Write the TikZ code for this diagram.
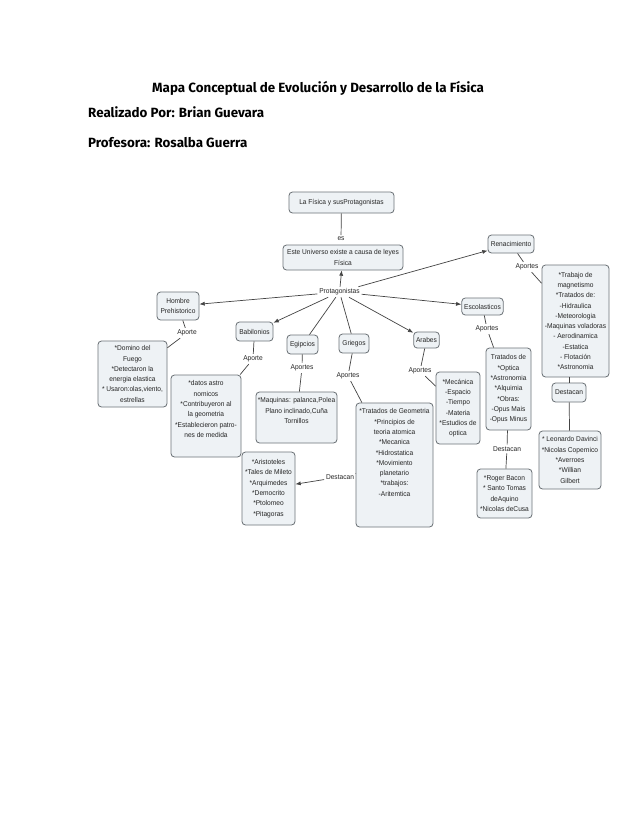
\documentclass[tikz,border=0pt]{standalone}
\usepackage{fontspec}
\usepackage{xcolor}
\usepackage{tikz}
\usetikzlibrary{arrows.meta}
\setmainfont{Liberation Sans}[FakeStretch=0.94]
\newfontfamily\headfont{Fira Sans}
\definecolor{MapFill}{HTML}{EEF2F5}
\definecolor{MapEdge}{HTML}{6E7479}
\definecolor{MapLink}{HTML}{444444}
\definecolor{MapText}{HTML}{262626}
\def\pxu{0.03cm}
\tikzset{
  mapfont/.style={font=\fontsize{6}{8.8}\selectfont, text=MapText},
  mapbox/.style={mapfont, draw=MapEdge, fill=MapFill, line width=0.7pt, rounded corners=3pt, align=center, inner sep=2pt},
  boxsize/.style 2 args={minimum width=#1*\pxu, minimum height=#2*\pxu},
  boxtext/.style={mapfont, anchor=north, align=center, inner sep=2pt, yshift=-3pt},
  maplabel/.style={mapfont, inner sep=1.5pt},
  link/.style={draw=MapLink, line width=0.6pt},
  linkarrow/.style={link, -{Latex[length=4.5pt,width=3.5pt]}},
  heading/.style={anchor=west, inner sep=0pt, font=\headfont\bfseries\fontsize{11.4}{13}\selectfont}
}

\begin{document}
\begin{tikzpicture}[x=\pxu, y=-\pxu]
    \useasboundingbox[fill=white] (0,0) rectangle (638,826);

    \node[heading] (titulo) at (152,88) {Mapa Conceptual de Evolución y Desarrollo de la Física};
    \node[heading] (autor) at (88,112) {Realizado Por: Brian Guevara};
    \node[heading] (profe) at (88,143) {Profesora: Rosalba Guerra};

    \node[mapbox, boxsize={105}{21}] (fisica) at (341.5,202.5) {La Física y susProtagonistas};
    \node[maplabel] (es) at (341,239) {es};
    \node[mapbox, boxsize={120}{25}] (universo) at (343,257.5) {Este Universo existe a causa de leyes\\Física};
    \node[maplabel] (protag) at (339.5,292) {Protagonistas};

    \node[mapbox, boxsize={42}{28}] (hombre) at (178,306) {Hombre\\Prehistorico};
    \node[mapbox, boxsize={37}{19}] (babil) at (254.5,331.5) {Babilonios};
    \node[mapbox, boxsize={31}{19}] (egip) at (302.5,344.5) {Egipcios};
    \node[mapbox, boxsize={30}{19}] (grieg) at (354,343.5) {Griegos};
    \node[mapbox, boxsize={23}{16}] (arabes) at (426.5,340) {Arabes};
    \node[mapbox, boxsize={41}{17}] (escol) at (482.5,306.5) {Escolasticos};
    \node[mapbox, boxsize={46}{18}] (renac) at (511,244) {Renacimiento};

    \node[maplabel] (aporteH) at (187,333) {Aporte};
    \node[maplabel] (aporteB) at (253,359) {Aporte};
    \node[maplabel] (aportesE) at (302,368) {Aportes};
    \node[maplabel] (aportesG) at (348,376) {Aportes};
    \node[maplabel] (aportesA) at (420,371) {Aportes};
    \node[maplabel] (aportesEs) at (487,329) {Aportes};
    \node[maplabel] (aportesR) at (527,267) {Aportes};

    \node[mapbox, boxsize={69}{66}] (domino) at (132.5,374) {*Domino del\\Fuego\\*Detectaron la\\energia elastica\\* Usaron:olas,viento,\\estrellas};
    \node[mapbox, boxsize={70}{82}, label={[boxtext]north:{*datos astro\\nomicos\\*Contribuyeron al\\la geometria\\*Establecieron patro-\\nes de medida}}] (datos) at (206,416) {};
    \node[mapbox, boxsize={81}{51}, label={[boxtext]north:{*Maquinas: palanca,Polea\\Plano inclinado,Cuña\\Tornillos}}] (maquinas) at (296.5,417.5) {};
    \node[mapbox, boxsize={77}{124}, label={[boxtext]north:{*Tratados de Geometria\\*Principios de\\teoria atomica\\*Mecanica\\*Hidrostatica\\*Movimiento\\planetario\\*trabajos:\\-Aritemtica}}] (geom) at (394.5,465) {};
    \node[mapbox, boxsize={53}{73}] (arist) at (268.5,488.5) {*Aristoteles\\*Tales de Mileto\\*Arquimedes\\*Democrito\\*Ptolomeo\\*Pitagoras};
    \node[maplabel] (destacanG) at (340,477) {Destacan};
    \node[mapbox, boxsize={44}{72}] (mecan) at (458,408) {*Mecánica\\-Espacio\\-Tiempo\\-Materia\\*Estudios de\\optica};
    \node[mapbox, boxsize={45}{82}] (tratEsc) at (508.5,389) {Tratados de\\*Optica\\*Astronomia\\*Alquimia\\*Obras:\\-Opus Mais\\-Opus Minus};
    \node[maplabel] (destacanEs) at (507,449) {Destacan};
    \node[mapbox, boxsize={55}{49}] (roger) at (504.5,493.5) {*Roger Bacon\\* Santo Tomas\\deAquino\\*Nicolas deCusa};
    \node[mapbox, boxsize={67}{112}] (trabajo) at (575.5,321) {*Trabajo de\\magnetismo\\*Tratados de:\\-Hidraulica\\-Meteorologia\\-Maquinas voladoras\\- Aerodinamica\\-Estatica\\- Flotación\\*Astronomia};
    \node[mapbox, boxsize={34}{19}] (destBox) at (569,392.5) {Destacan};
    \node[mapbox, boxsize={62}{58}] (leon) at (570,460) {* Leonardo Davinci\\*Nicolas Copernico\\*Averroes\\*Willian\\Gilbert};

    \draw[link] (fisica) -- (es);
    \draw[linkarrow] (protag) -- (universo);
    \draw[linkarrow] (protag) -- (hombre);
    \draw[linkarrow] (protag) -- (babil);
    \draw[link] (protag) -- (egip);
    \draw[link] (protag) -- (grieg);
    \draw[linkarrow] (protag) -- (arabes);
    \draw[linkarrow] (protag) -- (escol);
    \draw[linkarrow] (protag) -- (renac);

    \draw[link] (hombre) -- (aporteH);
    \draw[link] (aporteH) -- (domino);
    \draw[link] (babil) -- (aporteB);
    \draw[link] (aporteB) -- (datos);
    \draw[link] (egip) -- (aportesE);
    \draw[link] (aportesE) -- (maquinas);
    \draw[link] (grieg) -- (aportesG);
    \draw[link] (aportesG) -- (geom);
    \draw[link] (geom) -- (destacanG);
    \draw[linkarrow] (destacanG) -- (arist);
    \draw[link] (arabes) -- (aportesA);
    \draw[link] (aportesA) -- (mecan);
    \draw[link] (escol) -- (aportesEs);
    \draw[link] (aportesEs) -- (tratEsc);
    \draw[link] (tratEsc) -- (destacanEs);
    \draw[link] (destacanEs) -- (roger);
    \draw[link] (renac) -- (aportesR);
    \draw[link] (aportesR) -- (trabajo);
    \draw[link] (trabajo.south -| destBox) -- (destBox);
    \draw[link] (destBox) -- (leon);
\end{tikzpicture}
\end{document}
